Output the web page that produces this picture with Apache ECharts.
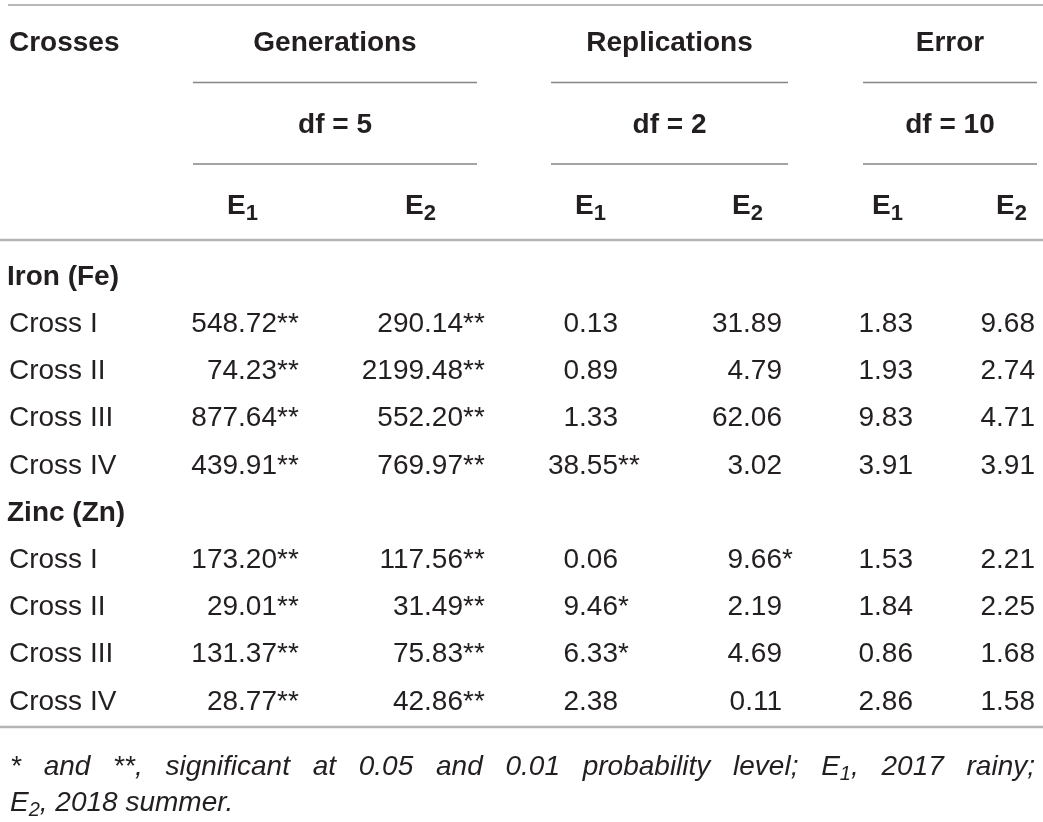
<!DOCTYPE html>
<html>
<head>
    <meta charset="utf-8"/>
    <title>Generations, replications and error mean squares</title>
    <script src="https://cdn.jsdelivr.net/npm/echarts@6/dist/echarts.min.js"></script>
    <style>
        html, body {margin: 0; padding: 0; background: #fff;}
        #main {width: 1043px; height: 822px;}
    </style>
</head>
<body>
<div id="main"></div>
<script type="text/javascript">
    // table body rows
    var rowNames = ['Iron (Fe)', 'Cross I', 'Cross II', 'Cross III', 'Cross IV',
                    'Zinc (Zn)', 'Cross I', 'Cross II', 'Cross III', 'Cross IV'];
    var groupRows = [0, 5];
    var crossRows = [1, 2, 3, 4, 6, 7, 8, 9];

    // header texts
    var sources = ['Generations', 'Replications', 'Error'];
    var dfLabels = ['df = 5', 'df = 2', 'df = 10'];
    var envLabels = ['1', '2', '1', '2', '1', '2'];

    // mean squares, Fe rows then Zn rows
    var genE1 = [548.72, 74.23, 877.64, 439.91, 173.20, 29.01, 131.37, 28.77];
    var genE1Sig = ['**', '**', '**', '**', '**', '**', '**', '**'];
    var genE2 = [290.14, 2199.48, 552.20, 769.97, 117.56, 31.49, 75.83, 42.86];
    var genE2Sig = ['**', '**', '**', '**', '**', '**', '**', '**'];
    var repE1 = [0.13, 0.89, 1.33, 38.55, 0.06, 9.46, 6.33, 2.38];
    var repE1Sig = ['', '', '', '**', '', '*', '*', ''];
    var repE2 = [31.89, 4.79, 62.06, 3.02, 9.66, 2.19, 4.69, 0.11];
    var repE2Sig = ['', '', '', '', '*', '', '', ''];
    var errE1 = [1.83, 1.93, 9.83, 3.91, 1.53, 1.84, 0.86, 2.86];
    var errE1Sig = ['', '', '', '', '', '', '', ''];
    var errE2 = [9.68, 2.74, 4.71, 3.91, 2.21, 2.25, 1.68, 1.58];
    var errE2Sig = ['', '', '', '', '', '', '', ''];

    var footnote = [
        '* and **, significant at 0.05 and 0.01 probability level; E{1}, 2017 rainy;',
        'E{2}, 2018 summer.'
    ];

    // layout
    var W = 1043;
    var FONT = '"Liberation Sans", Arial, Helvetica, sans-serif';
    var INK = '#231f20';
    var colRight = [277, 463, 618, 782, 913, 1035];
    var spans = [[193, 477], [551, 788], [863, 1037]];
    var envLeft = [227, 405, 575, 732, 872, 996];
    var SUB_DY = 8;

    var columns = [
        [genE1, genE1Sig], [genE2, genE2Sig],
        [repE1, repE1Sig], [repE2, repE2Sig],
        [errE1, errE1Sig], [errE2, errE2Sig]
    ];

    var ctx = document.createElement('canvas').getContext('2d');
    function widthOf(str, size, style) {
        ctx.font = style + ' ' + size + 'px ' + FONT;
        return ctx.measureText(str).width;
    }

    function textEl(x, y, str, size, weight, fontStyle, align) {
        return {
            type: 'text', x: x, y: y, silent: true,
            style: {
                text: str, fill: INK,
                fontFamily: FONT, fontSize: size,
                fontWeight: weight, fontStyle: fontStyle,
                align: align, verticalAlign: 'middle',
                textAlign: align, textVerticalAlign: 'middle'
            }
        };
    }

    // one custom series of text cells placed by the axes
    // items: {x, row, txt, sub, bold, align}
    function textSeries(grid, items) {
        return {
            type: 'custom',
            xAxisIndex: grid,
            yAxisIndex: grid,
            silent: true,
            encode: {x: 0, y: 1},
            data: items.map(function (it) { return [it.x, it.row]; }),
            renderItem: function (params, api) {
                var it = items[params.dataIndex];
                var pt = api.coord([api.value(0), api.value(1)]);
                var weight = it.bold ? 'bold' : 'normal';
                if (!it.sub) {
                    return textEl(pt[0], pt[1], it.txt, 28, weight, 'normal', it.align);
                }
                var w = widthOf(it.txt, 28, weight);
                return {
                    type: 'group',
                    children: [
                        textEl(pt[0], pt[1], it.txt, 28, weight, 'normal', 'left'),
                        textEl(pt[0] + w, pt[1] + SUB_DY, it.sub, 22, weight, 'normal', 'left')
                    ]
                };
            }
        };
    }

    var series = [];

    // header row 0: titles
    series.push(textSeries(0, [{x: 9, row: 0, txt: 'Crosses', bold: true, align: 'left'}]
        .concat(sources.map(function (s, i) {
            return {x: (spans[i][0] + spans[i][1]) / 2, row: 0, txt: s, bold: true, align: 'center'};
        }))));
    // header row 1: df
    series.push(textSeries(0, dfLabels.map(function (s, i) {
        return {x: (spans[i][0] + spans[i][1]) / 2, row: 1, txt: s, bold: true, align: 'center'};
    })));
    // header row 2: environments
    series.push(textSeries(0, envLabels.map(function (s, i) {
        return {x: envLeft[i], row: 2, txt: 'E', sub: s, bold: true, align: 'left'};
    })));

    // row labels
    series.push(textSeries(1, rowNames.map(function (n, i) {
        var grp = groupRows.indexOf(i) >= 0;
        return {x: grp ? 7 : 9, row: i, txt: n, bold: grp, align: 'left'};
    })));

    // values (right aligned) and significance marks (hanging)
    columns.forEach(function (col, c) {
        series.push(textSeries(1, col[0].map(function (v, i) {
            return {x: colRight[c], row: crossRows[i], txt: v.toFixed(2), align: 'right'};
        })));
        series.push(textSeries(1, col[1].map(function (s, i) {
            return {x: colRight[c], row: crossRows[i], txt: s, align: 'left'};
        })));
    });

    // rules of the table
    function rule(x1, x2, y, color, w) {
        return {type: 'line', silent: true,
            shape: {x1: x1, y1: y, x2: x2, y2: y},
            style: {stroke: color, lineWidth: w}};
    }
    var graphics = [
        rule(8, W, 5, '#a0a0a0', 1.5),
        rule(0, W, 240, '#b4b4b4', 2.5),
        rule(0, W, 727, '#b4b4b4', 2.5)
    ];
    spans.forEach(function (s) {
        graphics.push(rule(s[0], s[1], 82.5, '#858585', 1.5));
        graphics.push(rule(s[0], s[1], 164, '#858585', 1.5));
    });

    // footnote, justified like the printed table
    function footToken(word) {
        var m = word.match(/^(.*)\{(.+)\}(.*)$/);
        if (!m) return {parts: [[word, 28, 0]], w: widthOf(word, 28, 'italic')};
        var parts = [[m[1], 28, 0], [m[2], 20, SUB_DY - 1], [m[3], 28, 0]];
        var w = 0;
        parts.forEach(function (p) { p.push(w); w += widthOf(p[0], p[1], 'italic'); });
        return {parts: parts, w: w};
    }
    var footY = [767, 803];
    footnote.forEach(function (line, li) {
        var toks = line.split(' ').map(footToken);
        var total = toks.reduce(function (a, t) { return a + t.w; }, 0);
        var gap = li < footnote.length - 1 ? (1035 - 10 - total) / (toks.length - 1) : widthOf(' ', 28, 'italic');
        var x = 10;
        toks.forEach(function (t) {
            t.parts.forEach(function (p) {
                var dx = p.length > 3 ? p[3] : 0;
                if (p[0]) graphics.push(textEl(x + dx, footY[li] + p[2], p[0], p[1], 'normal', 'italic', 'left'));
            });
            x += t.w + gap;
        });
    });

    var myChart = echarts.init(document.getElementById('main'));
    var option = {
        animation: false,
        backgroundColor: '#fff',
        grid: [
            {left: 0, right: 0, top: 3, height: 244},
            {left: 0, right: 0, top: 253.5, height: 472}
        ],
        xAxis: [
            {gridIndex: 0, type: 'value', min: 0, max: W, show: false},
            {gridIndex: 1, type: 'value', min: 0, max: W, show: false}
        ],
        yAxis: [
            {gridIndex: 0, type: 'category', inverse: true, show: false, data: ['title', 'df', 'env']},
            {gridIndex: 1, type: 'category', inverse: true, show: false,
             data: rowNames.map(function (n, i) { return i; })}
        ],
        graphic: graphics,
        series: series
    };
    myChart.setOption(option);
</script>
</body>
</html>
